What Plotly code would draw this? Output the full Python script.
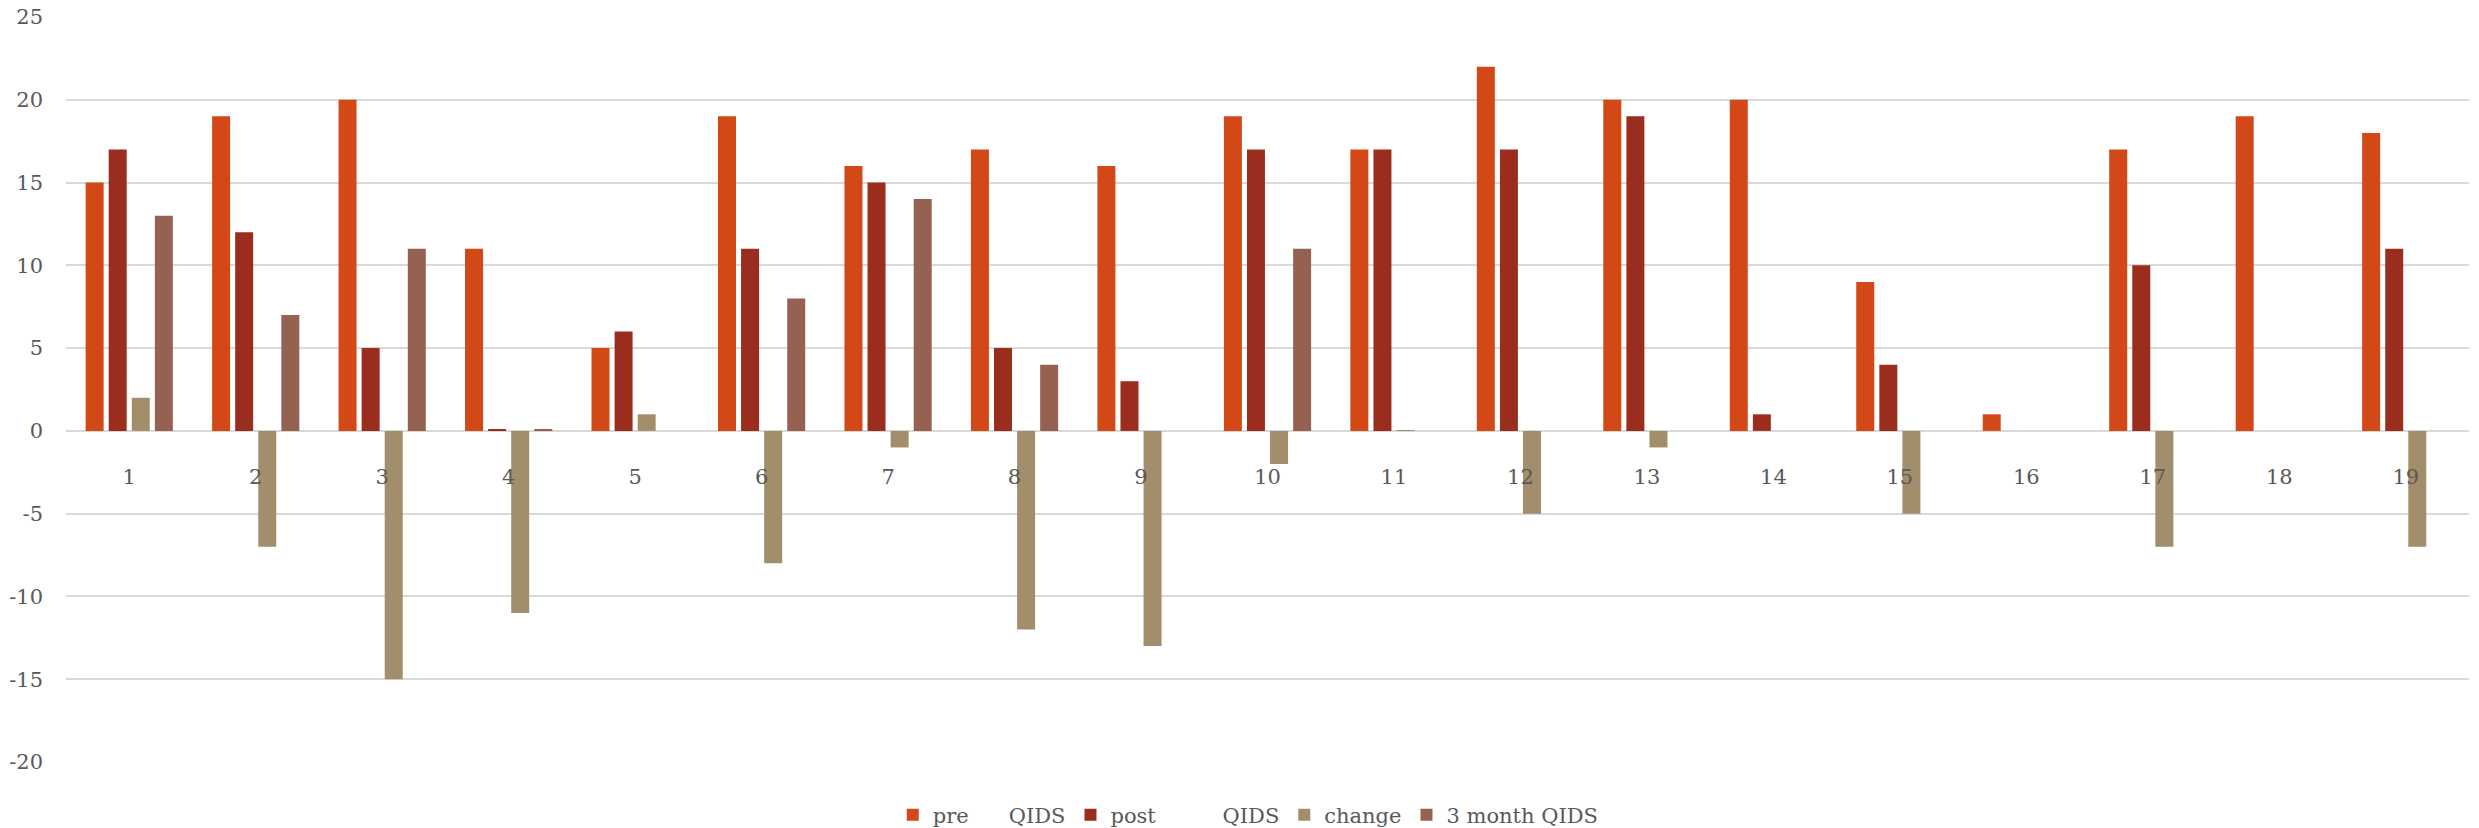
import plotly.graph_objects as go

categories = [str(i) for i in range(1, 20)]
pre_qids = [15, 19, 20, 11, 5, 19, 16, 17, 16, 19, 17, 22, 20, 20, 9, 1, 17, 19, 18]
post_qids = [17, 12, 5, 0.1, 6, 11, 15, 5, 3, 17, 17, 17, 19, 1, 4, None, 10, None, 11]
change = [2, -7, -15, -11, 1, -8, -1, -12, -13, -2, 0.05, -5, -1, None, -5, None, -7, None, -7]
month3_qids = [13, 7, 11, 0.1, None, 8, 14, 4, None, 11, None, None, None, None, None, None, None, None, None]

y_tick_values = [-20, -15, -10, -5, 0, 5, 10, 15, 20, 25]
y_tick_labels = ["-20", "-15", "-10", "-5", "0", "5", "10", "15", "20", "25"]

NB = "\u00a0"
series = [
    ("pre" + NB * 6 + "QIDS", pre_qids, "#D34817"),
    ("post" + NB * 10 + "QIDS", post_qids, "#9B2D1F"),
    ("change", change, "#A28E6A"),
    ("3 month QIDS", month3_qids, "#956251"),
]

FONT = "DejaVu Serif"
fig = go.Figure()
for name, vals, col in series:
    fig.add_trace(go.Bar(x=categories, y=vals, name=name, marker=dict(color=col, line=dict(width=0))))

fig.update_layout(
    width=2479, height=828,
    margin=dict(l=66, r=10, t=17, b=66, autoexpand=False),
    paper_bgcolor="white", plot_bgcolor="white",
    barmode="group", bargap=0.27, bargroupgap=0.22,
    font=dict(family=FONT, size=20, color="#595959"),
    showlegend=True,
    legend=dict(orientation="h", x=0.492, xanchor="center",
                yref="container", y=0.0157, yanchor="middle",
                font=dict(family=FONT, size=21, color="#595959"), itemwidth=30,
                traceorder="normal", borderwidth=0),
    xaxis=dict(anchor="free", position=20 / 45, showgrid=False, showline=False, zeroline=False,
               automargin=False,
               ticks="", tickfont=dict(family=FONT, size=21, color="#595959"),
               ticklabelstandoff=31),
    yaxis=dict(range=[-20, 25], tickvals=y_tick_values, ticktext=y_tick_labels,
               showgrid=True, gridcolor="#D9D9D9", gridwidth=2, automargin=False,
               zeroline=True, zerolinecolor="#D9D9D9", zerolinewidth=2, showline=False,
               ticks="", tickfont=dict(family=FONT, size=21, color="#595959"),
               ticklabelstandoff=22),
)

fig.write_html("out.html")
